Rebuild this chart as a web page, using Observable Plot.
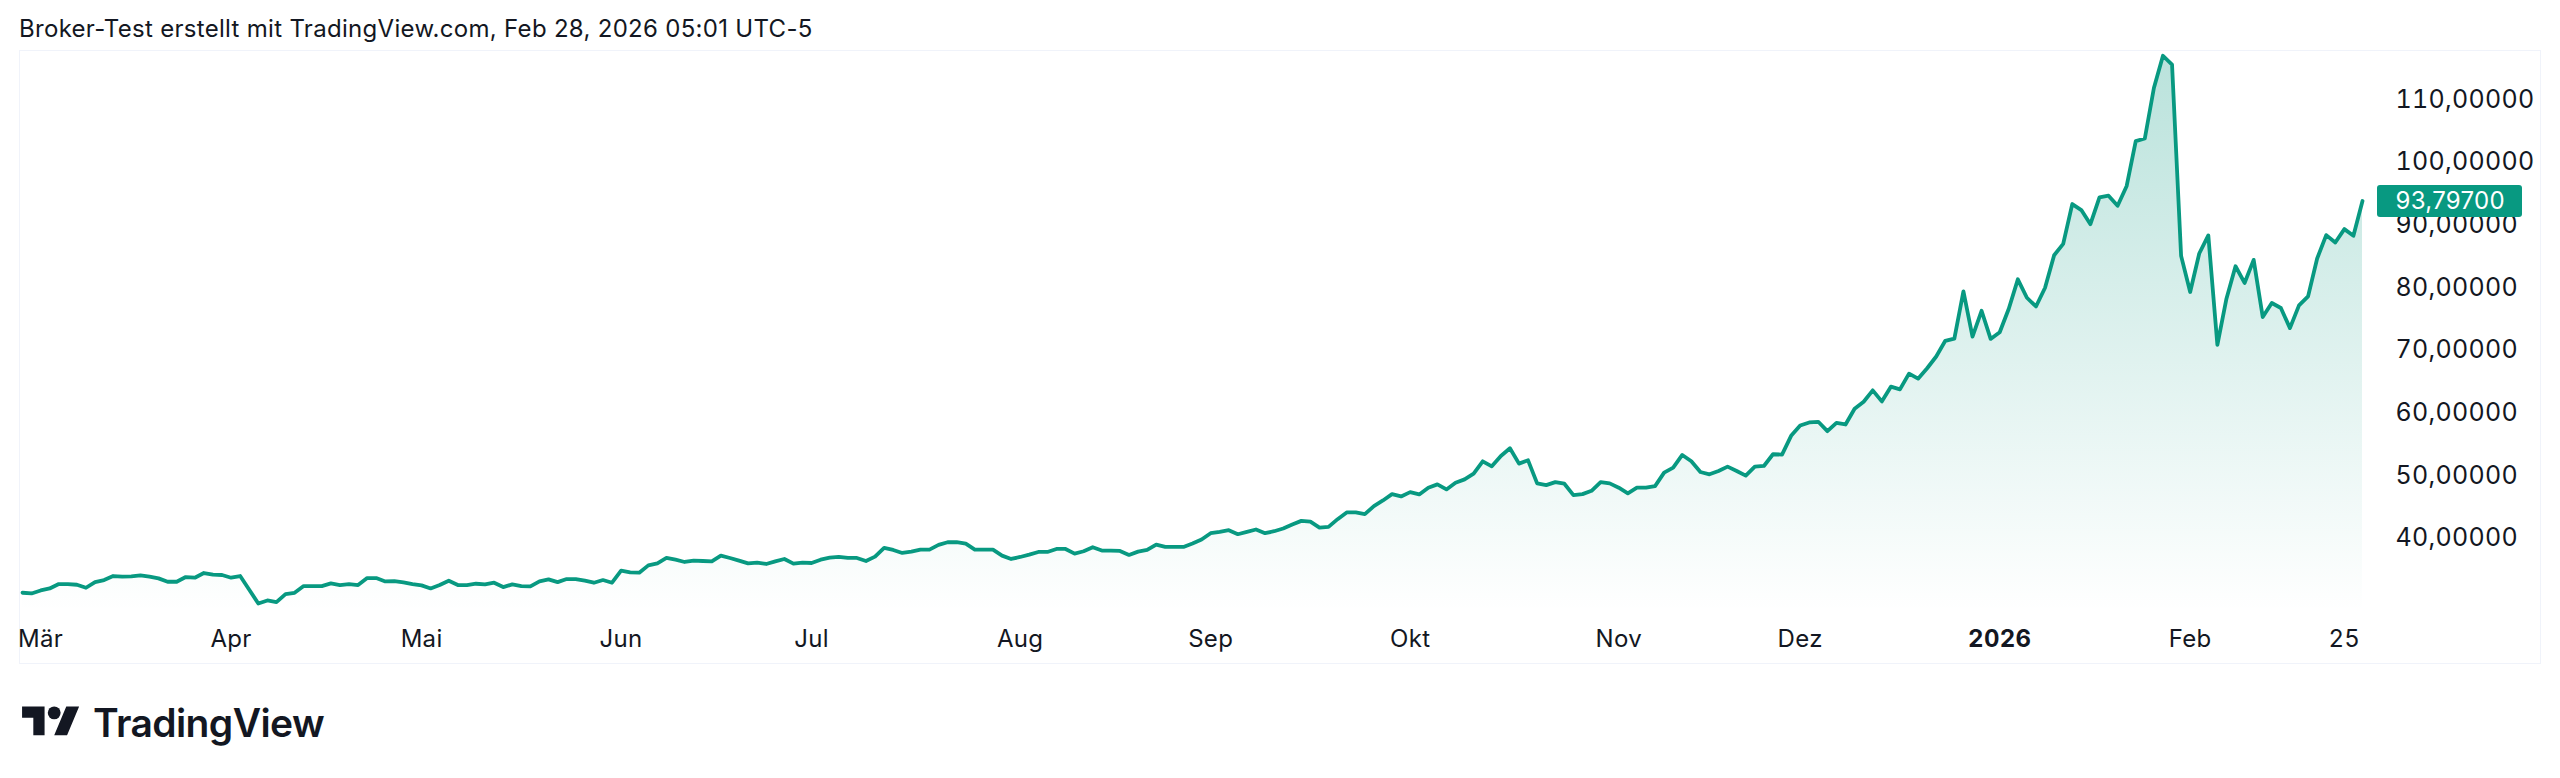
<!DOCTYPE html>
<html lang="de">
<head>
<meta charset="utf-8">
<script src="https://cdn.jsdelivr.net/npm/d3@7"></script>
<script src="https://cdn.jsdelivr.net/npm/@observablehq/plot@0.6"></script>
<style>
html,body{margin:0;padding:0;background:#fff;width:2560px;height:778px;overflow:hidden;font-family:Inter,sans-serif;color:#131722}
#title{position:absolute;left:19px;top:16px;font-size:24px;line-height:26px;white-space:nowrap;letter-spacing:0.3px}
#box{position:absolute;left:19px;top:50px;width:2520px;height:612px;border:1.5px solid #f0f3fa}
#box svg{display:block;overflow:visible}
#logo{position:absolute;left:22px;top:700px;display:flex;align-items:center}
#logo span{font-size:39px;font-weight:600;margin-left:13px;letter-spacing:-0.6px;color:#131722;line-height:42px}
</style>
</head>
<body>
<div id="title">Broker-Test erstellt mit TradingView.com, Feb 28, 2026 05:01 UTC-5</div>
<div id="box"></div>
<div id="logo"><svg width="58" height="45" viewBox="0 0 36 28"><path fill="#131722" d="M14 22H7V11H0V4h14v18ZM28 22h-8l7.5-18h8L28 22Z"/><circle fill="#131722" cx="20" cy="8" r="4"/></svg><span>TradingView</span></div>
<script>
const closes = [
31.30,31.19,31.67,31.99,32.69,32.69,32.58,32.10,33.01,33.33,33.97,33.86,33.91,34.07,33.86,33.59,33.06,33.06,33.81,33.70,
34.45,34.18,34.13,33.70,33.97,31.78,29.59,30.07,29.80,31.09,31.30,32.37,32.37,32.37,32.79,32.53,32.69,32.53,33.65,33.65,
33.11,33.17,32.95,32.69,32.47,31.99,32.53,33.22,32.53,32.53,32.74,32.63,32.90,32.21,32.63,32.37,32.31,33.11,33.43,33.00,
33.49,33.49,33.22,32.90,33.33,32.90,34.82,34.55,34.50,35.67,35.99,36.85,36.58,36.21,36.42,36.37,36.31,37.22,36.85,36.42,
35.99,36.10,35.89,36.31,36.69,35.94,36.10,36.05,36.58,36.90,37.01,36.85,36.85,36.37,37.06,38.45,38.13,37.65,37.86,38.18,
38.18,38.93,39.36,39.36,39.14,38.18,38.18,38.18,37.22,36.69,37.01,37.38,37.81,37.81,38.29,38.29,37.55,37.92,38.56,38.03,
38.03,37.97,37.33,37.86,38.13,38.99,38.61,38.61,38.61,39.15,39.79,40.80,41.01,41.28,40.64,41.01,41.39,40.80,41.12,41.55,
42.19,42.77,42.66,41.70,41.81,43.04,44.11,44.11,43.84,45.12,46.03,47.04,46.67,47.36,46.99,48.06,48.59,47.79,48.86,49.39,
50.30,52.27,51.47,53.13,54.35,51.90,52.43,48.75,48.48,48.96,48.70,46.88,47.04,47.57,48.96,48.75,48.06,47.15,48.06,48.06,
48.32,50.46,51.26,53.29,52.28,50.57,50.20,50.73,51.42,50.73,49.98,51.42,51.53,53.40,53.35,56.34,57.99,58.47,58.58,57.08,
58.42,58.15,60.66,61.78,63.59,61.83,64.18,63.75,66.26,65.46,67.12,68.99,71.50,71.86,79.38,72.18,76.29,71.80,72.87,76.61,
81.31,78.37,76.98,79.97,85.15,86.96,93.32,92.36,90.11,94.38,94.65,93.05,96.20,103.35,103.78,111.84,116.98,115.58,85.05,79.29,
85.43,88.31,70.85,78.22,83.40,80.73,84.41,75.29,77.53,76.73,73.52,77.15,78.59,84.63,88.36,87.19,89.32,88.26,93.797
];
const bars = closes.map((_, i) => i);
const monthTicks = [2, 23, 44, 66, 87, 110, 131, 153, 176, 196, 239, 256];
const monthLabels = ["Mär", "Apr", "Mai", "Jun", "Jul", "Aug", "Sep", "Okt", "Nov", "Dez", "Feb", "25"];
const yearTicks = [218];
const yearLabels = ["2026"];
const priceTicks = [40, 50, 60, 70, 80, 90, 100, 110];
const lastBar = bars[bars.length - 1];
const lastClose = closes[closes.length - 1];
const yDomain = [28.15, 117.5];
const fmt = d => d.toFixed(5).replace(".", ",");
const lineColor = "#089981";
const textColor = "#131722";

const gradient = () => {
  const defs = d3.create("svg:defs");
  const g = defs.append("linearGradient").attr("id", "areaFill").attr("x1", 0).attr("y1", 0).attr("x2", 0).attr("y2", 1);
  g.append("stop").attr("offset", "0%").attr("stop-color", lineColor).attr("stop-opacity", 0.28);
  g.append("stop").attr("offset", "100%").attr("stop-color", lineColor).attr("stop-opacity", 0);
  return defs.node();
};

const chart = Plot.plot({
  width: 2520,
  height: 611,
  marginTop: 1,
  marginBottom: 50,
  marginLeft: 2,
  marginRight: 178,
  style: {background: "transparent", fontFamily: "Inter, sans-serif", fontSize: "24px", letterSpacing: "0.3px", color: textColor},
  x: {domain: [0, lastBar]},
  y: {domain: yDomain},
  marks: [
    gradient,
    Plot.areaY(bars, {x: d => d, y1: yDomain[0], y2: d => closes[d], fill: "url(#areaFill)"}),
    Plot.lineY(bars, {x: d => d, y: d => closes[d], stroke: lineColor, strokeWidth: 3.8, strokeLinejoin: "round", strokeLinecap: "round"}),
    Plot.axisY(priceTicks, {anchor: "right", label: null, tickSize: 0, tickPadding: 33, tickFormat: fmt, fill: textColor, stroke: "none", fontSize: 25}),
    Plot.axisX(monthTicks, {anchor: "bottom", label: null, tickSize: 0, tickPadding: 17, tickFormat: d => monthLabels[monthTicks.indexOf(d)], fill: textColor}),
    Plot.axisX(yearTicks, {anchor: "bottom", label: null, tickSize: 0, tickPadding: 17, tickFormat: d => yearLabels[yearTicks.indexOf(d)], fill: textColor, fontWeight: 700}),
    Plot.rect([lastClose], {x1: lastBar, x2: lastBar, y1: d => d, y2: d => d, fill: lineColor, insetLeft: 15, insetRight: -160, insetTop: -15.5, insetBottom: -16.5, rx: 3}),
    Plot.text([lastClose], {x: lastBar, y: d => d, text: fmt, dx: 33, textAnchor: "start", fill: "#ffffff", fontSize: 24})
  ]
});
document.getElementById("box").appendChild(chart);
</script>
</body>
</html>
